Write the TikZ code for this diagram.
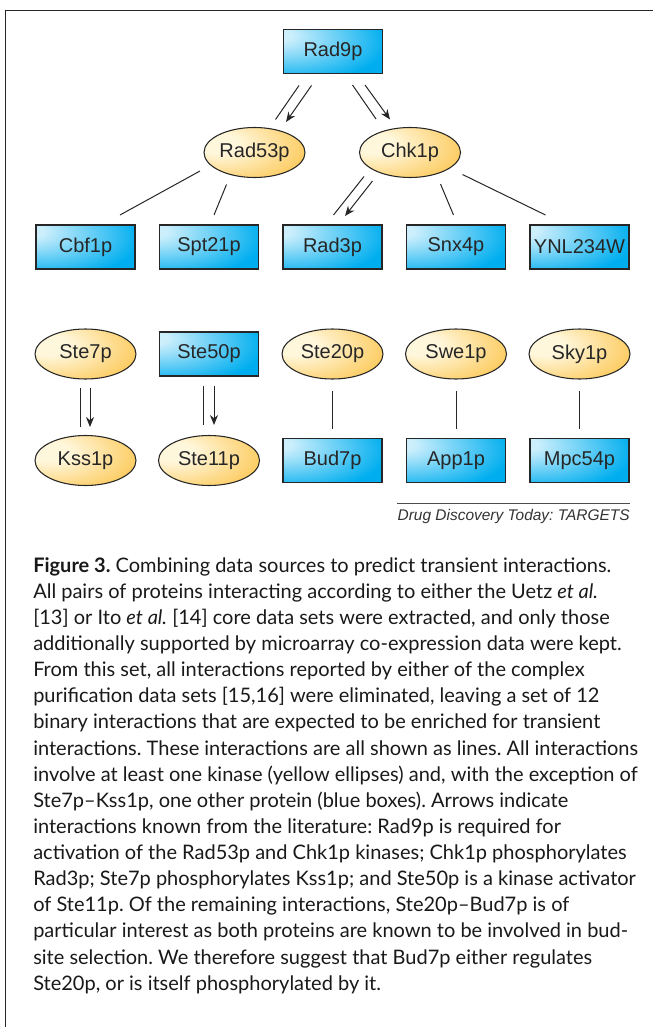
\documentclass[tikz,border=0pt]{standalone}
\usepackage{fontspec}
\setmainfont{Lato}
\newfontfamily\labelfont{Liberation Sans}
\usetikzlibrary{arrows.meta,shapes.geometric}
\frenchspacing

\definecolor{boxblue}{HTML}{00AEEF}
\definecolor{boxpale}{HTML}{CDEFFC}
\definecolor{kinasegold}{HTML}{FBB829}
\definecolor{kinasepale}{HTML}{FFF7DC}

\pgfdeclareradialshading{boxglow}{\pgfpoint{-32bp}{20bp}}{color(0bp)=(boxpale); color(8bp)=(boxpale); color(45bp)=(boxblue); color(100bp)=(boxblue)}
\pgfdeclareradialshading{kinaseglow}{\pgfpoint{-20bp}{10bp}}{color(0bp)=(kinasepale); color(10bp)=(kinasepale); color(52bp)=(kinasegold); color(100bp)=(kinasegold)}

\begin{document}
\begin{tikzpicture}[x=0.75pt, y=-0.75pt,
	protein/.style={draw=black!85, line width=0.8pt, text=black!85, inner sep=0pt, font=\labelfont\fontsize{15}{15}\selectfont},
	partner/.style={protein, rectangle, shade, shading=boxglow, minimum width=74.25pt, minimum height=33pt},
	kinase/.style={protein, ellipse, shade, shading=kinaseglow, minimum width=75.75pt, minimum height=37.5pt},
	link/.style={draw=black!85, line width=0.75pt},
	cause/.style={link, -{Stealth[length=7.5pt, width=6pt]}}]
	\useasboundingbox (0,0) rectangle (653,1027);

	% frame
	\draw[black!85, line width=1pt] (5.5,1027) -- (5.5,10.5) -- (653,10.5);

	% upper network
	\node[partner] (Rad9p) at (333,51.5) {Rad9p};
	\node[kinase] (Rad53p) at (254.5,152.5) {Rad53p};
	\node[kinase] (Chk1p) at (410,152.5) {Chk1p};
	\node[partner] (Cbf1p) at (85.5,247) {Cbf1p};
	\node[partner] (Spt21p) at (209,247) {Spt21p};
	\node[partner] (Rad3p) at (332.5,247) {Rad3p};
	\node[partner] (Snx4p) at (456,247) {Snx4p};
	\node[partner] (YNL234W) at (579.5,247) {YNL234W};

	\draw[link] ([shift={(-34,34)}]Rad9p.center) -- ([shift={(21,-33)}]Rad53p.center);
	\draw[cause] ([shift={(-21.5,34)}]Rad9p.center) -- ([shift={(31.5,-30.5)}]Rad53p.center);
	\draw[link] ([shift={(19.5,33.5)}]Rad9p.center) -- ([shift={(-34,-33.5)}]Chk1p.center);
	\draw[cause] ([shift={(32,33.5)}]Rad9p.center) -- ([shift={(-20,-33)}]Chk1p.center);
	\draw[link] ([shift={(-54.5,18.5)}]Rad53p.center) -- ([shift={(34.5,-32)}]Cbf1p.center);
	\draw[link] ([shift={(-28,32)}]Rad53p.center) -- ([shift={(5,-32)}]Spt21p.center);
	\draw[link] ([shift={(-46,24)}]Chk1p.center) -- ([shift={(1,-32)}]Rad3p.center);
	\draw[cause] ([shift={(-37.5,28.5)}]Chk1p.center) -- ([shift={(12.5,-31)}]Rad3p.center);
	\draw[link] ([shift={(30.5,31.5)}]Chk1p.center) -- ([shift={(-2.5,-32)}]Snx4p.center);
	\draw[link] ([shift={(52.5,22)}]Chk1p.center) -- ([shift={(-34,-32)}]YNL234W.center);

	% lower pairs
	\node[kinase] (Ste7p) at (85.5,354) {Ste7p};
	\node[partner] (Ste50p) at (209,354) {Ste50p};
	\node[kinase] (Ste20p) at (332.5,354) {Ste20p};
	\node[kinase] (Swe1p) at (456,354) {Swe1p};
	\node[kinase] (Sky1p) at (579.5,354) {Sky1p};
	\node[kinase] (Kss1p) at (85.5,460.5) {Kss1p};
	\node[kinase] (Ste11p) at (209,460.5) {Ste11p};
	\node[partner] (Bud7p) at (332.5,460.5) {Bud7p};
	\node[partner] (App1p) at (456,460.5) {App1p};
	\node[partner] (Mpc54p) at (579.5,460.5) {Mpc54p};

	\draw[link] ([shift={(-5,34)}]Ste7p.center) -- ([shift={(-5,-33.5)}]Kss1p.center);
	\draw[cause] ([shift={(4.5,34)}]Ste7p.center) -- ([shift={(4.5,-33.5)}]Kss1p.center);
	\draw[link] ([shift={(-5.5,32)}]Ste50p.center) -- ([shift={(-5.5,-35.5)}]Ste11p.center);
	\draw[cause] ([shift={(5,32)}]Ste50p.center) -- ([shift={(5,-35.5)}]Ste11p.center);
	\foreach \top/\bottom in {Ste20p/Bud7p, Swe1p/App1p, Sky1p/Mpc54p}
		\draw[link] ([yshift=-37*0.75pt]\top.center) -- ([yshift=31.5*0.75pt]\bottom.center);

	% credit line
	\node[anchor=base east, inner sep=0pt, text=black!80, font=\labelfont\itshape\fontsize{11.6}{13}\selectfont] (credit) at (630,520) {Drug Discovery Today: TARGETS};
	\draw[black!70, line width=0.6pt] (397,503) -- (630,503);

	% caption
	\node[anchor=north west, inner sep=0pt, align=left, text=black!90, font=\fontsize{15}{19.6}\selectfont] (caption) at (33,557) {%
		\textbf{Figure 3.} Combining data sources to predict transient interactions.\\
		All pairs of proteins interacting according to either the Uetz \textit{et al.}\\
		{[13]} or Ito \textit{et al.} [14] core data sets were extracted, and only those\\
		additionally supported by microarray co-expression data were kept.\\
		From this set, all interactions reported by either of the complex\\
		purification data sets [15,16] were eliminated, leaving a set of 12\\
		binary interactions that are expected to be enriched for transient\\
		interactions. These interactions are all shown as lines. All interactions\\
		involve at least one kinase (yellow ellipses) and, with the exception of\\
		Ste7p--Kss1p, one other protein (blue boxes). Arrows indicate\\
		interactions known from the literature: Rad9p is required for\\
		activation of the Rad53p and Chk1p kinases; Chk1p phosphorylates\\
		Rad3p; Ste7p phosphorylates Kss1p; and Ste50p is a kinase activator\\
		of Ste11p. Of the remaining interactions, Ste20p--Bud7p is of\\
		particular interest as both proteins are known to be involved in bud-\\
		site selection. We therefore suggest that Bud7p either regulates\\
		Ste20p, or is itself phosphorylated by it.};
\end{tikzpicture}
\end{document}
